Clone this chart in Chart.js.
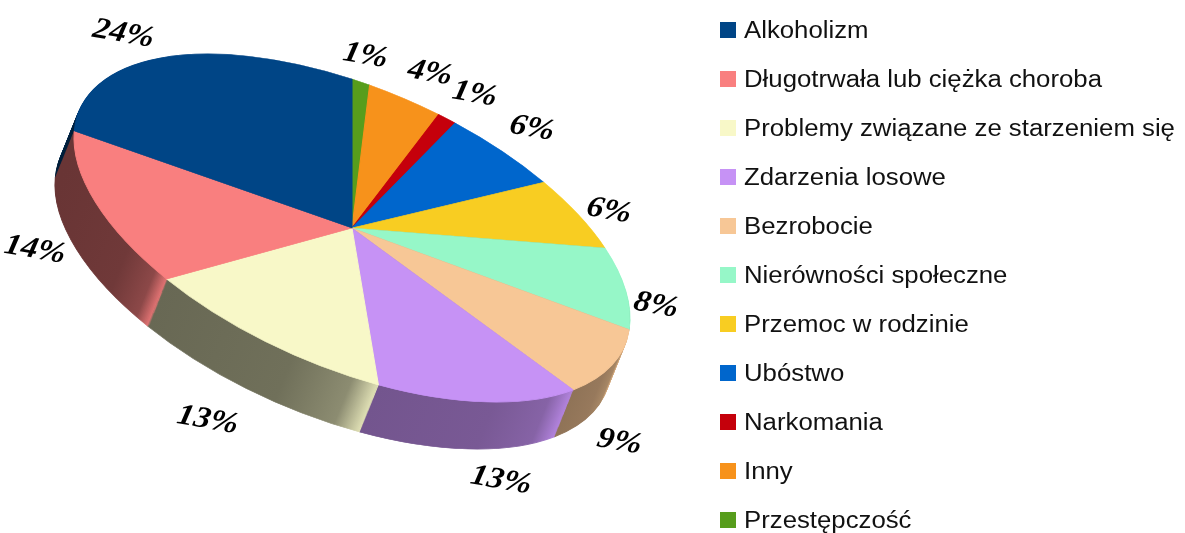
<!DOCTYPE html>
<html>
<head>
<meta charset="utf-8">
<script src="https://cdn.jsdelivr.net/npm/chart.js@4.4.0/dist/chart.umd.min.js"></script>
<style>
  body { margin: 0; background: #fff; }
  #wrap { width: 1185px; height: 533px; position: relative; }
</style>
</head>
<body>
<div id="wrap"><canvas id="causes"></canvas></div>
<script>
// legend order (the pie runs the other way round, counter-clockwise from 12 o'clock)
const labels = [
  "Alkoholizm",
  "Długotrwała lub ciężka choroba",
  "Problemy związane ze starzeniem się",
  "Zdarzenia losowe",
  "Bezrobocie",
  "Nierówności społeczne",
  "Przemoc w rodzinie",
  "Ubóstwo",
  "Narkomania",
  "Inny",
  "Przestępczość"
];
const values = [24, 14, 13, 13, 9, 8, 6, 6, 1, 4, 1];
const colors = [
  "#004586", "#f97f7f", "#f8f8c8", "#c692f5", "#f7c796", "#96f7c8",
  "#f8cd22", "#0066cc", "#c5000b", "#f7921b", "#579d1c"
];

// tilted disc: where the pie's 3 o'clock / 6 o'clock land on screen
const center = { x: 352, y: 228 };
const axisU = { x: 278, y: 90 };
const axisV = { x: 0, y: 149 };
const depth = { x: -19, y: 47 };
const stretch = 1.12; // the original picture is a bit wider than tall

const det = axisU.x * axisV.y - axisV.x * axisU.y;
const dirX = (axisV.y * depth.x - axisV.x * depth.y) / det;
const dirY = (-axisU.y * depth.x + axisU.x * depth.y) / det;

function shade(hex, f) {
  const n = parseInt(hex.slice(1), 16);
  const r = Math.round(((n >> 16) & 255) * f);
  const g = Math.round(((n >> 8) & 255) * f);
  const b = Math.round((n & 255) * f);
  return `rgb(${Math.min(r, 255)},${Math.min(g, 255)},${Math.min(b, 255)})`;
}

function tilt(ctx, arc, dx, dy) {
  const r = arc.outerRadius;
  ctx.translate(center.x + dx, center.y + dy);
  ctx.transform(axisU.x / r, axisU.y / r, axisV.x / r, axisV.y / r, 0, 0);
  ctx.translate(-arc.x, -arc.y);
}

function sideFill(ctx, arc, color) {
  let lo = Infinity, hi = -Infinity;
  for (let k = 0; k <= 60; k++) {
    const a = arc.startAngle + (arc.endAngle - arc.startAngle) * k / 60;
    const c = Math.cos(a), s = Math.sin(a);
    if (c * dirX + s * dirY > 0) {
      lo = Math.min(lo, c);
      hi = Math.max(hi, c);
    }
  }
  if (!(hi - lo > 0.01)) return shade(color, 0.5);
  const r = arc.outerRadius;
  const g = ctx.createLinearGradient(arc.x + lo * r, 0, arc.x + hi * r, 0);
  const a0 = lo < 0 ? 0.42 : 0.58, b0 = 0.9;
  g.addColorStop(0, shade(color, a0));
  g.addColorStop(0.6, shade(color, a0 + 0.03));
  g.addColorStop(0.88, shade(color, a0 + 0.3 * (b0 - a0)));
  g.addColorStop(1, shade(color, b0));
  return g;
}

const clamp1 = v => Math.max(-1, Math.min(1, v));

const pie3d = {
  id: "pie3d",
  beforeDatasetsDraw(chart) {
    const ctx = chart.ctx;
    const arcs = chart.getDatasetMeta(0).data;
    const cols = chart.data.datasets[0].backgroundColor;
    const fills = arcs.map((arc, i) => sideFill(ctx, arc, cols[i]));
    const steps = 48;
    for (let k = steps; k >= 1; k--) {
      ctx.save();
      tilt(ctx, arcs[0], depth.x * k / steps, depth.y * k / steps);
      arcs.forEach((arc, i) => {
        const side = Object.create(arc);
        side.options = Object.assign({}, arc.options, {
          backgroundColor: fills[i], borderColor: fills[i]
        });
        arc.draw.call(side, ctx);
      });
      ctx.restore();
    }
    ctx.save();
    tilt(ctx, arcs[0], 0, 0);
  },
  afterDatasetsDraw(chart) {
    chart.ctx.restore();
  },
  afterDraw(chart) {
    const ctx = chart.ctx;
    const arcs = chart.getDatasetMeta(0).data;
    const data = chart.data.datasets[0].data;
    const total = data.reduce((a, b) => a + b, 0);

    // percentage labels, pushed outside the rim by their own size
    ctx.save();
    ctx.font = 'italic bold 30px "Liberation Serif"';
    ctx.fillStyle = "#000";
    ctx.textAlign = "center";
    ctx.textBaseline = "middle";
    arcs.forEach((arc, i) => {
      const text = Math.round(data[i] / total * 100) + "%";
      const mid = (arc.startAngle + arc.endAngle) / 2;
      const c = Math.cos(mid), s = Math.sin(mid);
      const px = c * axisU.x + s * axisV.x;
      const py = c * axisU.y + s * axisV.y;
      const len = Math.hypot(px, py);
      const ux = px / len, uy = py / len;
      let x = center.x + px, y = center.y + py;
      if (c * dirX + s * dirY > 0) { x += depth.x * 1.15; y += depth.y * 1.15; }
      const hw = ctx.measureText(text).width * stretch / 2;
      x += ux * 8 + hw * clamp1(3 * ux);
      y += uy * 6 + 20 * clamp1(3 * uy);
      ctx.save();
      ctx.translate(x, y);
      ctx.scale(stretch, 1);
      ctx.rotate(11 * Math.PI / 180);
      ctx.fillText(text, 0, 0);
      ctx.restore();
    });
    ctx.restore();

    // legend
    ctx.save();
    ctx.font = '23px "Liberation Sans"';
    ctx.textBaseline = "alphabetic";
    ctx.textAlign = "left";
    labels.forEach((name, i) => {
      const cy = 30 + i * 49;
      ctx.fillStyle = colors[i];
      ctx.fillRect(720, cy - 8, 16, 16);
      ctx.fillStyle = "#111";
      ctx.save();
      ctx.translate(744, cy + 8);
      ctx.scale(stretch, 1);
      ctx.fillText(name, 0, 0);
      ctx.restore();
    });
    ctx.restore();
  }
};

new Chart(document.getElementById("causes"), {
  type: "pie",
  data: {
    labels: [...labels].reverse(),
    datasets: [{
      data: [...values].reverse(),
      backgroundColor: [...colors].reverse(),
      borderColor: [...colors].reverse(),
      borderWidth: 1,
      clip: false
    }]
  },
  options: {
    responsive: true,
    maintainAspectRatio: false,
    animation: false,
    events: [],
    plugins: {
      legend: { display: false },
      tooltip: { enabled: false }
    }
  },
  plugins: [pie3d]
});
</script>
</body>
</html>
